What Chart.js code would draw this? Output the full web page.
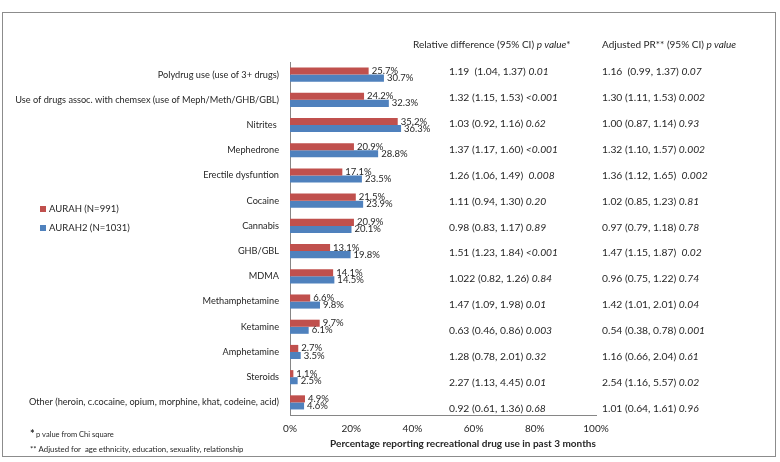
<!DOCTYPE html>
<html><head><meta charset="utf-8">
<script src="https://cdn.jsdelivr.net/npm/chart.js@4.4.1/dist/chart.umd.min.js"></script>
<style>html,body{margin:0;padding:0;background:#fff;overflow:hidden}</style>
</head><body>
<canvas id="c" width="780" height="462"></canvas>
<script>
const categories = ['Polydrug use (use of 3+ drugs)','Use of drugs assoc. with chemsex (use of Meph/Meth/GHB/GBL)','Nitrites ','Mephedrone','Erectile dysfuntion','Cocaine','Cannabis','GHB/GBL','MDMA','Methamphetamine','Ketamine','Amphetamine','Steroids','Other (heroin, c.cocaine, opium, morphine, khat, codeine, acid)'];
const aurah = [25.7,24.2,35.2,20.9,17.1,21.5,20.9,13.1,14.1,6.6,9.7,2.7,1.1,4.9];
const aurah2 = [30.7,32.3,36.3,28.8,23.5,23.9,20.1,19.8,14.5,9.8,6.1,3.5,2.5,4.6];
const seriesNames = ['AURAH (N=991)','AURAH2 (N=1031)'];
const xTicks = [0,20,40,60,80,100];
const relDiff = ['1.19  (1.04, 1.37) ','1.32 (1.15, 1.53) ','1.03 (0.92, 1.16) ','1.37 (1.17, 1.60) ','1.26 (1.06, 1.49)  ','1.11 (0.94, 1.30) ','0.98 (0.83, 1.17) ','1.51 (1.23, 1.84) ','1.022 (0.82, 1.26) ','1.47 (1.09, 1.98) ','0.63 (0.46, 0.86) ','1.28 (0.78, 2.01) ','2.27 (1.13, 4.45) ','0.92 (0.61, 1.36) '];
const relP = ['0.01','<0.001','0.62','<0.001','0.008','0.20','0.89','<0.001','0.84','0.01','0.003','0.32','0.01','0.68'];
const adjPR = ['1.16  (0.99, 1.37) ','1.30 (1.11, 1.53) ','1.00 (0.87, 1.14) ','1.32 (1.10, 1.57) ','1.36 (1.12, 1.65)  ','1.02 (0.85, 1.23) ','0.97 (0.79, 1.18) ','1.47 (1.15, 1.87)  ','0.96 (0.75, 1.22) ','1.42 (1.01, 2.01) ','0.54 (0.38, 0.78) ','1.16 (0.66, 2.04) ','2.54 (1.16, 5.57) ','1.01 (0.64, 1.61) '];
const adjP = ['0.07','0.002','0.93','0.002','0.002','0.81','0.78','0.02','0.74','0.04','0.001','0.61','0.02','0.96'];
const headers = [['Relative difference (95% CI) ','p value','*'],['Adjusted PR** (95% CI) ','p value','']];
const footnotes = ['p value from Chi square','** Adjusted for  age ethnicity, education, sexuality, relationship'];
const axisTitle = 'Percentage reporting recreational drug use in past 3 months';

const FONT = "'Lato', sans-serif";
const RED = '#C0504D', BLUE = '#4F81BD', TXT = '#262626';

function mixed(ctx, x, y, parts, size) {
  let cx = x;
  parts.forEach((p, k) => {
    ctx.font = (k === 1 ? 'italic ' : '') + size + 'px ' + FONT;
    ctx.fillText(p, cx, y);
    cx += ctx.measureText(p).width;
  });
}

const extras = {
  id: 'extras',
  beforeDraw(chart) {
    const ctx = chart.ctx;
    ctx.save();
    ctx.fillStyle = '#fff';
    ctx.fillRect(0, 0, chart.width, chart.height);
    ctx.strokeStyle = '#8c8c8c';
    ctx.lineWidth = 1;
    ctx.strokeRect(2.5, 12.5, 773, 444);
    ctx.restore();
  },
  afterDraw(chart) {
    const ctx = chart.ctx;
    const ys = chart.scales.y;
    ctx.save();
    ctx.fillStyle = TXT;
    ctx.textBaseline = 'middle';
    ctx.textAlign = 'left';
    // data labels
    chart.data.datasets.forEach((ds, di) => {
      const meta = chart.getDatasetMeta(di);
      ctx.font = '9.5px ' + FONT;
      meta.data.forEach((bar, i) => {
        ctx.fillText(ds.data[i].toFixed(1) + '%', bar.x + 3, bar.y);
      });
    });
    // table headers
    mixed(ctx, 413, 45, headers[0], 10);
    mixed(ctx, 602, 45, headers[1], 10);
    // table rows
    categories.forEach((c, i) => {
      const y = ys.getPixelForValue(i) - 2.6 + 0.65 * i;
      mixed(ctx, 449, y, [relDiff[i], relP[i]], 10.3);
      mixed(ctx, 602, y, [adjPR[i], adjP[i]], 10.3);
    });
    // legend
    [RED, BLUE].forEach((col, k) => {
      const y = 209 + k * 19;
      ctx.fillStyle = col;
      ctx.fillRect(40, y - 3, 6, 6);
      ctx.fillStyle = TXT;
      ctx.font = '9.5px ' + FONT;
      ctx.fillText(seriesNames[k], 49, y);
    });
    // footnotes
    ctx.font = 'bold 11px ' + FONT;
    ctx.fillText('*', 30, 434);
    ctx.font = '7.5px ' + FONT;
    ctx.fillText(footnotes[0], 36, 435);
    ctx.font = '7.8px ' + FONT;
    ctx.fillText(footnotes[1], 30, 449);
    // axis title
    ctx.font = 'bold 10px ' + FONT;
    ctx.textAlign = 'center';
    ctx.fillText(axisTitle, 463, 444);
    ctx.restore();
  }
};

new Chart(document.getElementById('c'), {
  type: 'bar',
  data: {
    labels: categories,
    datasets: [
      { label: seriesNames[0], data: aurah, backgroundColor: RED, borderWidth: 0, categoryPercentage: 0.56, barPercentage: 1 },
      { label: seriesNames[1], data: aurah2, backgroundColor: BLUE, borderWidth: 0, categoryPercentage: 0.56, barPercentage: 1 }
    ]
  },
  options: {
    indexAxis: 'y',
    responsive: false,
    animation: false,
    devicePixelRatio: 1,
    layout: { padding: { left: 10, right: 184, top: 62, bottom: 22 } },
    plugins: { legend: { display: false }, tooltip: { enabled: false } },
    scales: {
      x: {
        min: 0, max: 100,
        afterBuildTicks(s) { s.ticks = xTicks.map(v => ({ value: v })); },
        afterFit(s) { s.height = 25; },
        grid: { display: false, drawTicks: false },
        border: { display: true, color: '#868686' },
        ticks: { padding: 8, color: TXT, font: { family: FONT, size: 10 }, callback: v => v + '%' }
      },
      y: {
        afterFit(s) { s.width = 280; },
        grid: { display: false, drawTicks: false },
        border: { display: true, color: '#868686' },
        ticks: { padding: 11, color: TXT, font: { family: FONT, size: 9.2 }, autoSkip: false }
      }
    }
  },
  plugins: [extras]
});
</script>
</body></html>
